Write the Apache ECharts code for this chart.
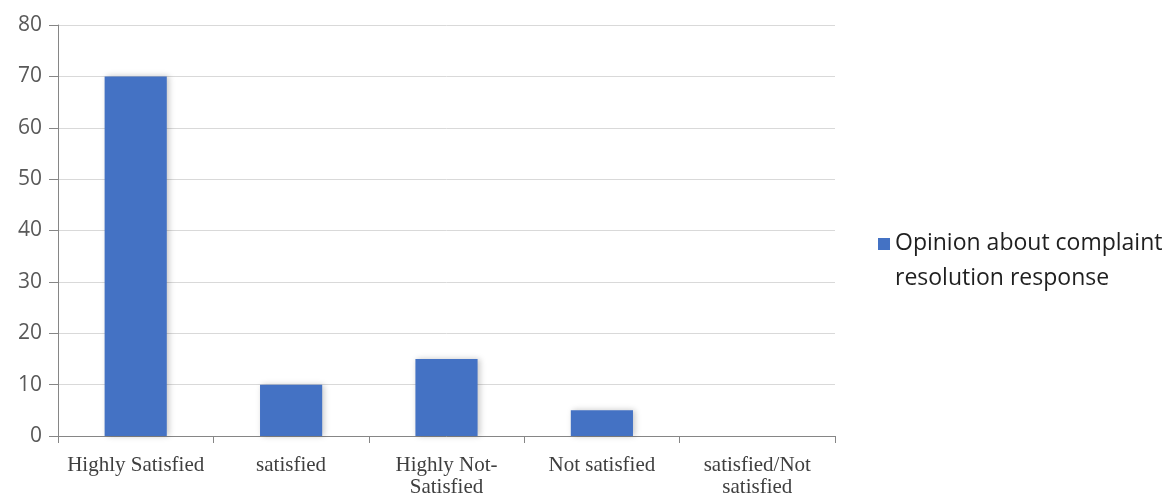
<!DOCTYPE html>
<html>
<head>
<meta charset="utf-8">
<script src="https://cdn.jsdelivr.net/npm/echarts@6/dist/echarts.min.js"></script>
<style>
  html, body { margin: 0; padding: 0; background: #ffffff; }
  #chart { width: 1169px; height: 495px; }
</style>
</head>
<body>
<div id="chart"></div>
<script>
// Survey responses: opinion about complaint resolution response
const categories = [
  'Highly Satisfied',
  'satisfied',
  'Highly Not-\nSatisfied',
  'Not satisfied',
  'satisfied/Not\nsatisfied'
];
const values = [70, 10, 15, 5, 0];
const seriesName = 'Opinion about complaint resolution response';
const legendLines = ['Opinion about complaint', 'resolution response'];

// Square legend marker sitting at the top of a taller box, so it lines up
// with the first line of the two-line legend text.
const legendIcon = 'path://M0,0L10,0L10,10L0,10Z M0,38.3L0.01,38.3';

const chart = echarts.init(document.getElementById('chart'), null, { renderer: 'canvas' });

chart.setOption({
  animation: false,
  backgroundColor: '#ffffff',
  grid: {
    left: 58, right: 334, top: 25, bottom: 59,
    containLabel: false,
    outerBoundsMode: 'none'
  },
  legend: {
    data: [seriesName],
    left: 873,
    top: 221,
    orient: 'vertical',
    itemWidth: 12,
    itemHeight: 46,
    itemGap: 6,
    icon: legendIcon,
    symbolKeepAspect: true,
    formatter: function () { return legendLines.join('\n'); },
    textStyle: {
      fontFamily: 'Open Sans',
      fontSize: 23,
      lineHeight: 35,
      color: '#1f1f1f'
    }
  },
  xAxis: {
    type: 'category',
    data: categories,
    axisLine: { lineStyle: { color: '#868686', width: 1 } },
    axisTick: { show: true, alignWithLabel: false, length: 7, lineStyle: { color: '#868686' } },
    axisLabel: {
      interval: 0,
      margin: 18,
      fontFamily: 'Liberation Serif',
      fontSize: 21,
      lineHeight: 22,
      color: '#3f3f3f'
    }
  },
  yAxis: {
    type: 'value',
    min: 0,
    max: 80,
    interval: 10,
    axisLine: { show: true, lineStyle: { color: '#868686', width: 1 } },
    axisTick: { show: true, length: 9, lineStyle: { color: '#868686' } },
    splitLine: { lineStyle: { color: '#d9d9d9', width: 1 } },
    axisLabel: {
      margin: 16,
      fontFamily: 'Open Sans',
      fontSize: 21,
      color: '#595959'
    }
  },
  series: [{
    name: seriesName,
    type: 'bar',
    data: values,
    barWidth: '40%',
    itemStyle: {
      color: '#4472c4',
      shadowBlur: 6,
      shadowColor: 'rgba(0,0,0,0.22)',
      shadowOffsetX: 2,
      shadowOffsetY: 0
    }
  }]
});
</script>
</body>
</html>
